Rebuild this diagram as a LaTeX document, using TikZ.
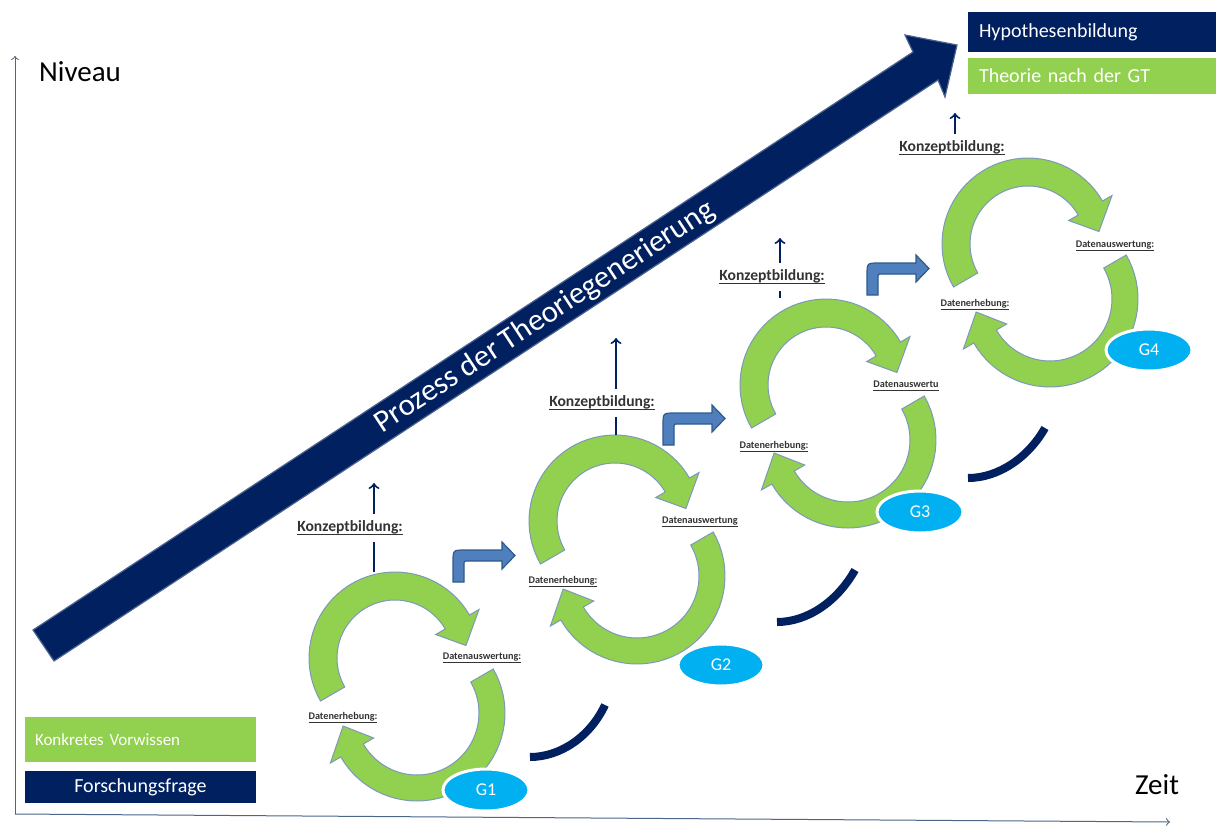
\documentclass[tikz,border=0pt]{standalone}
\usepackage{fontspec}
\setmainfont{Carlito}
\usetikzlibrary{shapes,arrows,positioning}

\definecolor{navy}{HTML}{002060}
\definecolor{grass}{HTML}{92D050}
\definecolor{badge}{HTML}{00B0F0}
\definecolor{stepfill}{HTML}{4F7FBC}
\definecolor{stepline}{HTML}{2F5A8C}
\definecolor{arcline}{HTML}{7D98B8}
\definecolor{axisline}{HTML}{4A6688}
\definecolor{labelgray}{HTML}{333333}

\tikzstyle{cyclearrow} = [fill=grass, draw=arcline, line width=0.5pt]
\tikzstyle{bentarrow} = [fill=stepfill, draw=stepline, line width=0.6pt]
\tikzstyle{swoosh} = [draw=navy, line width=4pt]
\tikzstyle{axis} = [draw=axisline, line width=0.5pt, ->]
\tikzstyle{line} = [draw=navy, line width=1pt]
\tikzstyle{konzept} = [font=\fontsize{7.8}{9}\selectfont\bfseries, text=labelgray,
    minimum height=13.5pt, inner sep=0pt]
\tikzstyle{datalabel} = [font=\fontsize{5.1}{6}\selectfont\bfseries, text=labelgray, inner sep=0pt]
\tikzstyle{badgenode} = [ellipse, fill=badge, draw=white, line width=1.5pt, minimum width=43pt,
    minimum height=21pt, text=white, font=\fontsize{9}{10}\selectfont]
\tikzstyle{legend} = [rectangle, text=white, minimum width=115.5pt, inner xsep=5pt]

% underline just below the baseline
\newcommand{\ulabel}[1]{\underline{\smash{#1}}\vphantom{#1}}
% curved block arrow: cx, cy, radius, half width, start, head base, tip, head half width
\newcommand{\blockarc}[8]{%
  \filldraw[cyclearrow]
    plot[domain=#5:#6, samples=40] ({#1+(#3+#4)*cos(\x)}, {#2+(#3+#4)*sin(\x)})
    -- ({#1+(#3+#8)*cos(#6)}, {#2+(#3+#8)*sin(#6)})
    -- ({#1+#3*cos(#7)}, {#2+#3*sin(#7)})
    -- ({#1+(#3-#8)*cos(#6)}, {#2+(#3-#8)*sin(#6)})
    -- plot[domain=0:1, samples=40] ({#1+(#3-#4)*cos(#6+(#5-(#6))*\x)}, {#2+(#3-#4)*sin(#6+(#5-(#6))*\x)})
    -- cycle;}
\newcommand{\gtcycle}[2]{%
  \blockarc{#1}{#2}{72}{14}{150}{330}{350}{25}%
  \blockarc{#1+22}{#2+55}{75}{13}{-30}{150}{170}{25}}
\newcommand{\stepbend}[2]{%
  \filldraw[bentarrow, shift={(#1,#2)}] (0,0) -- (0,-20) .. controls (0,-32) .. (12,-32)
    -- (49,-32) -- (49,-40) -- (62,-26.5) -- (49,-13) -- (49,-21) -- (15,-21)
    .. controls (11,-21) .. (11,-17) -- (11,0) -- cycle;}

\begin{document}
\begin{tikzpicture}[x=0.5pt, y=-0.5pt]
	\useasboundingbox (0,0) rectangle (1216,825);

	% axes
	\coordinate (origin) at (15,814);
	\coordinate (ytip) at (15,56);
	\coordinate (xtip) at (1170,822);
	\draw[axis] (origin) -- (ytip);
	\draw[axis] (origin) -- (xtip);
	\node[font=\fontsize{14.5}{17}\selectfont] (niveau) at (80,72) {Niveau};
	\node[font=\fontsize{14.5}{17}\selectfont] (zeit) at (1157,785) {Zeit};

	% big process arrow
	\filldraw[fill=navy, draw=navy!70!white, line width=0.6pt] (33,630) -- (913,52) -- (905,35)
		-- (957,45) -- (945,97) -- (938,80) -- (54,661) -- cycle;
	\node[rotate=33.3, text=white, font=\fontsize{15.5}{18}\selectfont] (prozess) at (545,317)
		{Prozess der Theoriegenerierung};

	% cycles
	\gtcycle{395}{658}
	\gtcycle{615}{521}
	\gtcycle{826}{385}
	\gtcycle{1028}{244}

	\stepbend{453}{582}
	\stepbend{663}{445}
	\stepbend{867}{295}

	\draw[swoosh] (530,757) .. controls (560,757) and (590,737) .. (605,705);
	\draw[swoosh] (777,622) .. controls (807,622) and (837,602) .. (855,570);
	\draw[swoosh] (968,478) .. controls (998,478) and (1028,458) .. (1045,428);

	% labels in the cycles
	\node[datalabel] (aus1) at (482,658) {\ulabel{Datenauswertung:}};
	\node[datalabel] (aus2) at (700,522) {\ulabel{Datenauswertung}};
	\node[datalabel, anchor=west] (aus3) at (873,386) {\ulabel{Datenauswertu}};
	\node[datalabel] (aus4) at (1115,246) {\ulabel{Datenauswertung:}};
	\node[datalabel] (erh1) at (343,718) {\ulabel{Datenerhebung:}};
	\node[datalabel] (erh2) at (563,582) {\ulabel{Datenerhebung:}};
	\node[datalabel] (erh3) at (774,447) {\ulabel{Datenerhebung:}};
	\node[datalabel] (erh4) at (975,305) {\ulabel{Datenerhebung:}};

	\node[badgenode] (g1) at (486,790) {G1};
	\node[badgenode] (g2) at (721,665) {G2};
	\node[badgenode] (g3) at (920,512) {G3};
	\node[badgenode] (g4) at (1149,350) {G4};

	% Konzeptbildung
	\node[konzept] (k1) at (350,528) {\ulabel{Konzeptbildung:}};
	\node[konzept] (k2) at (602,403) {\ulabel{Konzeptbildung:}};
	\node[konzept] (k3) at (772,277) {\ulabel{Konzeptbildung:}};
	\node[konzept] (k4) at (952,148) {\ulabel{Konzeptbildung:}};
	\coordinate (top1) at (374,572);
	\coordinate (top2) at (616,435);
	\coordinate (top3) at (780,298);
	\coordinate (top4) at (955,162);
	\coordinate (tip1) at (374,483);
	\coordinate (tip2) at (616,338);
	\coordinate (tip3) at (780,238);
	\coordinate (tip4) at (955,113);
	\path[line] (top1) -- (top1 |- k1.south);
	\path[line] (top2) -- (top2 |- k2.south);
	\path[line] (top3) -- (top3 |- k3.south);
	\path[line, ->] (top1 |- k1.north) -- (tip1);
	\path[line, ->] (top2 |- k2.north) -- (tip2);
	\path[line, ->] (top3 |- k3.north) -- (tip3);
	\path[line, ->] (top4 |- k4.north) -- (tip4);

	% legends
	\node[legend, fill=grass, minimum height=22.5pt, text width=105.5pt, align=left,
		font=\fontsize{8.5}{10}\selectfont] (vorwissen) at (140.5,739.5) {Konkretes Vorwissen};
	\node[legend, fill=navy, minimum height=16pt, below=4pt of vorwissen,
		font=\fontsize{10}{12}\selectfont] (frage) {Forschungsfrage};
	\node[legend, fill=navy, minimum height=20pt, text width=112.5pt, inner xsep=5.75pt, align=left,
		font=\fontsize{10}{12}\selectfont] (hypo) at (1091.5,32) {Hypothesenbildung};
	\node[legend, fill=grass, minimum height=18pt, text width=112.5pt, inner xsep=5.75pt, align=left,
		below=2.5pt of hypo, font=\fontsize{10}{12}\selectfont] (theorie) {Theorie nach der GT};
\end{tikzpicture}
\end{document}
